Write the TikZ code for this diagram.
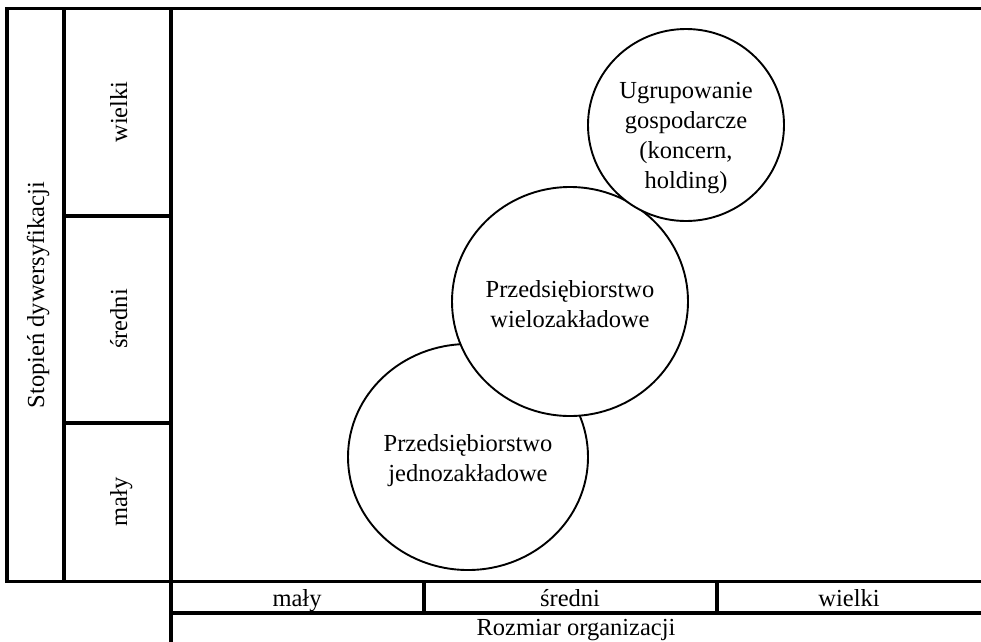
\documentclass[tikz,border=0pt]{standalone}
\usepackage{fontspec}
\setmainfont{Liberation Serif}
\begin{document}
\begin{tikzpicture}[x=1pt,y=-1pt,
  frame/.style={line width=3.3pt, line cap=rect},
  blob/.style={draw, line width=1.9pt, fill=white},
  lbl/.style={font=\fontsize{24.5}{30}\selectfont, inner sep=0pt, anchor=base},
  ctext/.style={font=\fontsize{24.5}{30}\selectfont, align=center, inner sep=0pt}]
\useasboundingbox (0,0) rectangle (981,641);
% frame
\draw[frame] (7,8.5) -- (981,8.5);
\draw[frame] (7,581.5) -- (981,581.5);
\draw[frame] (7,8.5) -- (7,581.5);
\draw[frame] (64,8.5) -- (64,581.5);
\draw[frame] (171,8.5) -- (171,645);
\draw[frame] (64,216) -- (171,216);
\draw[frame] (64,423) -- (171,423);
\draw[frame] (171,613) -- (981,613);
\draw[frame] (424,581.5) -- (424,613);
\draw[frame] (717,581.5) -- (717,613);
% labels
\node[lbl, rotate=90] (stopien) at (44,295) {Stopień dywersyfikacji};
\node[lbl, rotate=90] (ywielki) at (127,112) {wielki};
\node[lbl, rotate=90] (ysredni) at (127,319) {średni};
\node[lbl, rotate=90] (ymaly) at (127,502) {mały};
\node[lbl] (xmaly) at (297,606) {mały};
\node[lbl] (xsredni) at (570,606) {średni};
\node[lbl] (xwielki) at (849,606) {wielki};
\node[lbl] (rozmiar) at (576,635) {Rozmiar organizacji};
% circles
\draw[blob] (468,457) ellipse [x radius=120, y radius=113];
\node[ctext] (jedno) at (468,461) {Przedsiębiorstwo\\jednozakładowe};
\draw[blob] (570,301.5) ellipse [x radius=118, y radius=114.5];
\node[ctext] (wielo) at (570,304) {Przedsiębiorstwo\\wielozakładowe};
\draw[blob] (686,125) ellipse [x radius=98, y radius=96];
\node[ctext] (ugr) at (686,138) {Ugrupowanie\\gospodarcze\\(koncern,\\holding)};
\end{tikzpicture}
\end{document}
